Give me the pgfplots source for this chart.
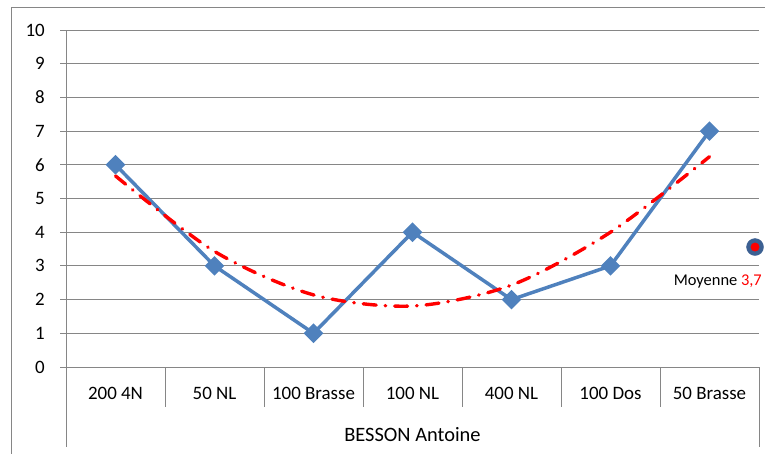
\documentclass[border=0pt]{standalone}
\usepackage{pgfplots}
\pgfplotsset{compat=1.18}
\usepackage{fontspec}
\setmainfont{Carlito}
\definecolor{gridgray}{RGB}{134,134,134}
\definecolor{serieblue}{RGB}{79,129,189}
\definecolor{meanblue}{RGB}{60,96,146}
\definecolor{trendred}{RGB}{255,0,0}
\begin{document}
\begin{tikzpicture}
\path[use as bounding box] (-66bp,-87bp) rectangle (699bp,367bp);
\draw[gridgray, line width=0.8bp] (-55bp,-90bp) -- (-55bp,360bp) -- (702bp,360bp);
\begin{axis}[
    at={(0,0)}, anchor=south west,
    scale only axis, width=693bp, height=337bp,
    xmin=0.5, xmax=7.5, ymin=0, ymax=10,
    xtick={1,...,7},
    xticklabels={200 4N, 50 NL, 100 Brasse, 100 NL, 400 NL, 100 Dos, 50 Brasse},
    ytick={0,...,10},
    axis x line*=bottom, axis y line*=left,
    axis line style={gridgray, line width=0.8bp, -},
    ymajorgrids, grid style={gridgray, line width=0.8bp},
    x tick style={draw=none},
    y tick style={gridgray, line width=0.8bp},
    tick align=outside, major tick length=6bp,
    xticklabel style={font=\fontsize{19}{22}\selectfont, anchor=center, yshift=-20bp},
    yticklabel style={font=\fontsize{19}{22}\selectfont, anchor=east, inner sep=0pt, xshift=-15bp},
    /pgf/number format/assume math mode=true,
    clip=false,
]
\addplot[serieblue, line width=3.5bp, mark=square*, mark size=5.2bp,
    mark options={rotate=45, solid, fill=serieblue}]
    coordinates {(1,6) (2,3) (3,1) (4,4) (5,2) (6,3) (7,7)};
% polynomial trend (order 2)
\addplot[trendred, line width=3.4bp, smooth, line cap=round,
    dash pattern=on 13bp off 9bp on 0.5bp off 9bp]
    coordinates {(1,5.67) (2,3.43) (3,2.14) (4,1.81) (5,2.43) (6,4.00) (7,6.24)};
% moyenne
\addplot[only marks, mark=*, mark size=8.5bp, mark options={fill=meanblue, draw=meanblue}]
    coordinates {(7.46,3.56)};
\addplot[only marks, mark=*, mark size=4.2bp, mark options={fill=trendred, draw=trendred}]
    coordinates {(7.46,3.56)};
\node[anchor=base east, font=\fontsize{16.5}{19}\selectfont, inner sep=0pt]
    at ([xshift=3bp, yshift=-38bp]axis cs:7.5,3.56) {Moyenne \textcolor{trendred}{3,7}};
% category separators
\draw[gridgray, line width=0.8bp] (axis cs:1.5,0) -- ([yshift=-40bp]axis cs:1.5,0);
\draw[gridgray, line width=0.8bp] (axis cs:2.5,0) -- ([yshift=-40bp]axis cs:2.5,0);
\draw[gridgray, line width=0.8bp] (axis cs:3.5,0) -- ([yshift=-40bp]axis cs:3.5,0);
\draw[gridgray, line width=0.8bp] (axis cs:4.5,0) -- ([yshift=-40bp]axis cs:4.5,0);
\draw[gridgray, line width=0.8bp] (axis cs:5.5,0) -- ([yshift=-40bp]axis cs:5.5,0);
\draw[gridgray, line width=0.8bp] (axis cs:6.5,0) -- ([yshift=-40bp]axis cs:6.5,0);
\draw[gridgray, line width=0.8bp] (axis cs:0.5,0) -- ([yshift=-80bp]axis cs:0.5,0);
\draw[gridgray, line width=0.8bp] (axis cs:7.5,0) -- ([yshift=-80bp]axis cs:7.5,0);
\node[font=\fontsize{20.5}{24}\selectfont, anchor=center] at ([yshift=-68bp]axis cs:4,0) {BESSON Antoine};
\end{axis}
\end{tikzpicture}
\end{document}
